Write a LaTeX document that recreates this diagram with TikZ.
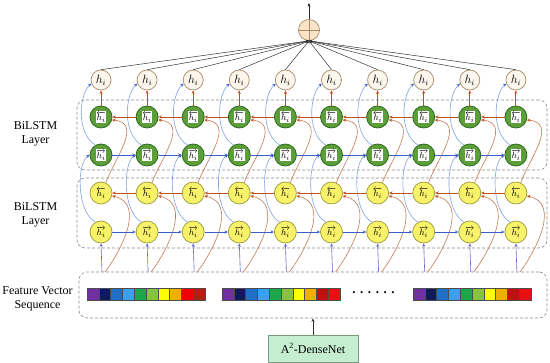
\documentclass[tikz,border=0pt]{standalone}
\usepackage{fontspec}
\setmainfont{Liberation Serif}
\usetikzlibrary{arrows.meta,calc}
\definecolor{bluearr}{HTML}{3A5FCD}
\definecolor{bluecurve}{HTML}{7FA3DE}
\definecolor{brownarr}{HTML}{C0501E}
\definecolor{browncurve}{HTML}{C27A52}
\definecolor{inputline}{HTML}{6A6AC8}
\definecolor{gfill}{HTML}{5C9E3A}
\definecolor{gdraw}{HTML}{2E6B1C}
\definecolor{yfill}{HTML}{F7F26A}
\definecolor{ydraw}{HTML}{9A9A35}
\definecolor{hfill}{HTML}{FDF6EC}
\definecolor{hdraw}{HTML}{A58B6A}
\definecolor{sumfill}{HTML}{FBE3C6}
\definecolor{dashgray}{HTML}{8A8A8A}
\definecolor{densefill}{HTML}{C5EDCF}
\definecolor{densedraw}{HTML}{7A9A80}
\definecolor{fa}{HTML}{7030A0}
\definecolor{fb}{HTML}{0D1A5E}
\definecolor{fc}{HTML}{1F6FC5}
\definecolor{fd}{HTML}{3AA0F0}
\definecolor{fe}{HTML}{1EA64A}
\definecolor{ff}{HTML}{86C440}
\definecolor{fg}{HTML}{FFFF00}
\definecolor{fh}{HTML}{F0B000}
\definecolor{fi}{HTML}{F00000}
\definecolor{fj}{HTML}{B02010}
\definecolor{fk}{HTML}{C01010}
\definecolor{fl}{HTML}{E81010}
\newcommand\glab[1]{{\setlength\fboxsep{0.6pt}\colorbox{white}{#1}}}
\begin{document}
\begin{tikzpicture}[x=1pt,y=1pt,
  >={Stealth[length=3.5pt,width=3pt]},
  dashbox/.style={draw=dashgray, dash pattern=on 3pt off 2pt, rounded corners=8pt, line width=0.6pt, inner sep=0pt},
  hnode/.style={circle, draw=hdraw, fill=hfill, line width=0.7pt, minimum size=20pt, inner sep=0pt, font=\fontsize{11.5}{11.5}\selectfont},
  gnode/.style={circle, draw=gdraw, fill=gfill, line width=0.8pt, minimum size=22pt, inner sep=0pt, font=\fontsize{9.5}{9.5}\selectfont},
  ynode/.style={circle, draw=ydraw, fill=yfill, line width=0.7pt, minimum size=22pt, inner sep=0pt, font=\fontsize{9.5}{9.5}\selectfont},
  sumnode/.style={circle, draw=hdraw, fill=sumfill, line width=0.7pt, minimum size=21pt, inner sep=0pt},
  lbl/.style={align=center, font=\fontsize{12}{14.5}\selectfont},
  densebox/.style={draw=densedraw, fill=densefill, line width=0.6pt, inner sep=0pt, font=\fontsize{12}{14}\selectfont},
  bluestr/.style={draw=bluearr, line width=0.8pt, ->},
  brownstr/.style={draw=brownarr, line width=0.9pt, ->},
  bluecur/.style={draw=bluecurve, line width=0.6pt, -{Stealth[length=3.5pt,width=3pt,color=bluearr]}},
  browncur/.style={draw=browncurve, line width=0.6pt, -{Stealth[length=3.5pt,width=3pt,color=brownarr]}},
  inarrow/.style={draw=inputline, line width=0.6pt, ->},
  topline/.style={draw=black!80, line width=0.5pt, -{Stealth[length=3pt,width=2.5pt]}},
  cell/.style={draw=black!70, line width=0.4pt}
]
\useasboundingbox (0,0) rectangle (550,363);

% dashed boxes
\node[dashbox, minimum width=470pt, minimum height=70pt] (gbox) at (312,228) {};
\node[dashbox, minimum width=470pt, minimum height=70pt] (ybox) at (312,150) {};
\node[dashbox, minimum width=468pt, minimum height=46pt] (feat) at (313,68) {};

% labels
\node[lbl] (l1) at (35.5,229) {BiLSTM\\Layer};
\node[lbl] (l2) at (35.5,148) {BiLSTM\\Layer};
\node[lbl] (l3) at (37.5,64) {Feature Vector\\Sequence};

% feature strips
\foreach \s/\r/\q in {87/fi/fj, 222/fk/fl, 413/fk/fl}{
  \foreach \c [count=\k] in {fa,fb,fc,fd,fe,ff,fg,fh,\r,\q}{
    \fill[\c] (\s+11.8*\k-11.8,63) rectangle (\s+11.8*\k,75);
    \draw[cell] (\s+11.8*\k-11.8,63) rectangle (\s+11.8*\k,75);
  }
}
\node[font=\fontsize{13}{13}\selectfont\bfseries] (dots) at (373.5,70) {.\hspace{4.6pt}.\hspace{4.6pt}.\hspace{4.6pt}.\hspace{4.6pt}.\hspace{4.6pt}.};

% A2-DenseNet
\node[densebox, minimum width=90pt, minimum height=27pt] (dense) at (313,14.5) {A\textsuperscript{2}-DenseNet};
\draw[draw=black!80, line width=0.6pt, ->] (dense.north) -- (feat.south);

% sum node
\node[sumnode] (sum) at (309,333) {};
\draw[hdraw, line width=0.6pt] (sum.west) -- (sum.east);
\draw[hdraw, line width=0.6pt] (sum.north) -- (sum.south);
\coordinate (outp) at (309,360);
\draw[draw=black!85, line width=0.6pt, ->] (sum.north) -- (outp);

% nodes
\foreach \j in {1,...,10}{
  \pgfmathsetmacro\xx{101+46.1*(\j-1)}
  \node[hnode] (h\j) at (\xx,283) {$h_i$};
  \node[gnode] (gb\j) at (\xx,246) {\glab{$\overleftarrow{h_i}$}};
  \node[gnode] (gf\j) at (\xx,208) {\glab{$\overrightarrow{h_i}$}};
  \node[ynode] (yb\j) at (\xx,170) {$\overleftarrow{h_i}$};
  \node[ynode] (yf\j) at (\xx,131) {$\overrightarrow{h_i}$};
  \coordinate (in\j) at (\xx+1,91);
  \coordinate (inb\j) at (\xx+4,91);
}

% vertical / curved connectors
\foreach \j in {1,...,10}{
  \pgfmathsetmacro\xx{101+46.1*(\j-1)}
  \draw[inarrow] (in\j) -- (yf\j.south);
  \draw[browncur] (inb\j) .. controls (\xx+20,112) and (\xx+45,160) .. (yb\j.-15);
  \draw[bluecur] (yf\j.120) .. controls (\xx-25,152) and (\xx-24,200) .. (gf\j.west);
  \draw[browncur] (yb\j.65) .. controls (\xx+14,205) and (\xx+42,240) .. (gb\j.-15);
  \draw[bluecur] (gf\j.120) .. controls (\xx-25,230) and (\xx-22,268) .. (h\j.200);
  \draw[brownstr] (gb\j.north) -- (h\j.south);
  \draw[topline] (h\j.north) -- (sum.south);
}

% horizontal connectors
\foreach \j in {1,...,9}{
  \pgfmathtruncatemacro\k{\j+1}
  \draw[bluestr] (yf\j.east) -- (yf\k.west);
  \draw[brownstr] (yb\k.west) -- (yb\j.east);
  \draw[bluestr] (gf\j.east) -- (gf\k.west);
  \draw[brownstr] (gb\k.west) -- (gb\j.east);
}
\end{tikzpicture}
\end{document}
